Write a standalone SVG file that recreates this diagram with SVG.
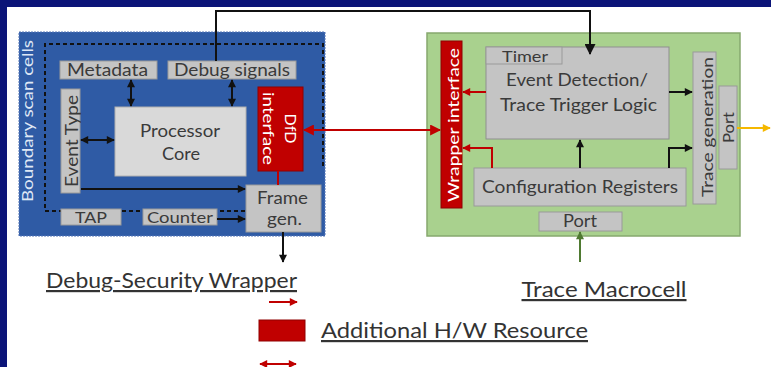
<svg xmlns="http://www.w3.org/2000/svg" width="771" height="367" viewBox="0 0 771 367">
  <style>
    text { font-family: Lato, "Open Sans", "Liberation Sans", sans-serif; fill: #3a3a3a; text-anchor: middle; }
    .box { fill: #c4c4c4; stroke: #9a9a9a; stroke-width: 1; }
    .light { fill: #d9d9d9; stroke: #b0b0b0; stroke-width: 1; }
    .red { fill: #c00000; stroke: #900000; stroke-width: 1; }
    .wt { fill: #ffffff; }
    .sm { font-size: 16px; }
    .lbl { font-size: 17px; }
    .big { font-size: 18px; }
    .cap { font-size: 22px; text-decoration: underline; fill: #333333; }
    .k { fill: none; stroke: #111111; stroke-width: 2; }
    .r { fill: none; stroke: #c00000; stroke-width: 2; }
  </style>
  <defs>
    <marker id="ak" viewBox="0 0 10 10" refX="9" refY="5" markerUnits="userSpaceOnUse" markerWidth="9" markerHeight="8" orient="auto-start-reverse">
      <path d="M0,0 L10,5 L0,10 z" fill="#111111"/>
    </marker>
    <marker id="akb" viewBox="0 0 10 10" refX="9" refY="5" markerUnits="userSpaceOnUse" markerWidth="12" markerHeight="11" orient="auto">
      <path d="M0,0 L10,5 L0,10 z" fill="#111111"/>
    </marker>
    <marker id="ar" viewBox="0 0 10 10" refX="9" refY="5" markerUnits="userSpaceOnUse" markerWidth="9" markerHeight="8" orient="auto-start-reverse">
      <path d="M0,0 L10,5 L0,10 z" fill="#c00000"/>
    </marker>
    <marker id="arb" viewBox="0 0 10 10" refX="9" refY="5" markerUnits="userSpaceOnUse" markerWidth="12" markerHeight="11" orient="auto-start-reverse">
      <path d="M0,0 L10,5 L0,10 z" fill="#c00000"/>
    </marker>
    <marker id="ay" viewBox="0 0 10 10" refX="9" refY="5" markerUnits="userSpaceOnUse" markerWidth="9" markerHeight="8" orient="auto">
      <path d="M0,0 L10,5 L0,10 z" fill="#f5b800"/>
    </marker>
    <marker id="ag" viewBox="0 0 10 10" refX="9" refY="5" markerUnits="userSpaceOnUse" markerWidth="9" markerHeight="8" orient="auto">
      <path d="M0,0 L10,5 L0,10 z" fill="#4f7a32"/>
    </marker>
  </defs>

  <!-- page frame -->
  <rect x="0" y="0" width="771" height="367" fill="#0b1478"/>
  <rect x="7" y="7" width="764" height="360" fill="#ffffff"/>

  <!-- Debug-Security Wrapper -->
  <g id="wrapper">
    <rect x="19" y="32" width="306" height="204" fill="#2f5ba5" stroke="#5577b8" stroke-width="1" stroke-dasharray="2 1"/>
    <path d="M245,211 H45 V44 H323 V166" fill="none" stroke="#111111" stroke-width="2" stroke-dasharray="4 3"/>
    <text class="sm" transform="translate(33,121) rotate(-90)" textLength="162" lengthAdjust="spacingAndGlyphs" style="fill:#dfe8f5">Boundary scan cells</text>
  </g>
  <g id="metadata">
    <rect class="box" x="60" y="61" width="97" height="18"/>
    <text class="lbl" x="107.5" y="76" textLength="81" lengthAdjust="spacingAndGlyphs">Metadata</text>
  </g>
  <g id="debug-signals">
    <rect class="box" x="168" y="61" width="128" height="18"/>
    <text class="lbl" x="232" y="76" textLength="116" lengthAdjust="spacingAndGlyphs">Debug signals</text>
  </g>
  <g id="event-type">
    <rect class="box" x="61" y="89" width="19" height="104"/>
    <text class="lbl" transform="translate(77.5,141) rotate(-90)" textLength="92" lengthAdjust="spacingAndGlyphs">Event Type</text>
  </g>
  <g id="processor-core">
    <rect class="light" x="115" y="107" width="131" height="69"/>
    <text class="big" x="180" y="137" textLength="80" lengthAdjust="spacingAndGlyphs">Processor</text>
    <text class="big" x="181" y="160" textLength="38" lengthAdjust="spacingAndGlyphs">Core</text>
  </g>
  <g id="dfd-interface">
    <rect class="red" x="258" y="87" width="45" height="84"/>
    <text class="sm wt" transform="translate(280.5,128.5) rotate(90)"><tspan x="0" y="-4.5" textLength="30" lengthAdjust="spacingAndGlyphs">DfD</tspan><tspan x="0" y="18" textLength="73" lengthAdjust="spacingAndGlyphs">interface</tspan></text>
  </g>
  <g id="frame-gen">
    <rect class="box" x="246" y="185" width="75" height="47"/>
    <text class="big" x="282.5" y="204" textLength="51" lengthAdjust="spacingAndGlyphs">Frame</text>
    <text class="big" x="284.5" y="225" textLength="35" lengthAdjust="spacingAndGlyphs">gen.</text>
  </g>
  <g id="tap">
    <rect class="box" x="61" y="209" width="60" height="16"/>
    <text class="sm" x="91" y="222.5" textLength="32" lengthAdjust="spacingAndGlyphs">TAP</text>
  </g>
  <g id="counter">
    <rect class="box" x="143" y="209" width="74" height="16"/>
    <text class="sm" x="180" y="222.5" textLength="66" lengthAdjust="spacingAndGlyphs">Counter</text>
  </g>

  <!-- Trace Macrocell -->
  <g id="macrocell">
    <rect x="427" y="33" width="313" height="203" fill="#a9d18e" stroke="#86a86e" stroke-width="1.5"/>
  </g>
  <g id="wrapper-interface">
    <rect class="red" x="441" y="41" width="21" height="167"/>
    <text class="sm wt" transform="translate(458.5,125) rotate(-90)" textLength="154" lengthAdjust="spacingAndGlyphs">Wrapper interface</text>
  </g>
  <g id="event-detection">
    <rect x="486" y="47" width="183" height="92" fill="#c4c4c4" stroke="#8f8f8f" stroke-width="1"/>
    <rect class="box" x="486" y="47" width="76" height="17"/>
    <text class="sm" x="525" y="62" textLength="46" lengthAdjust="spacingAndGlyphs">Timer</text>
    <text class="big" x="577" y="86" textLength="142" lengthAdjust="spacingAndGlyphs">Event Detection/</text>
    <text class="big" x="578.5" y="111" textLength="157" lengthAdjust="spacingAndGlyphs">Trace Trigger Logic</text>
  </g>
  <g id="config-registers">
    <rect class="box" x="474" y="168" width="212" height="38"/>
    <text class="big" x="580" y="193" textLength="196" lengthAdjust="spacingAndGlyphs">Configuration Registers</text>
  </g>
  <g id="port-bottom">
    <rect class="box" x="539" y="212" width="83" height="19"/>
    <text class="lbl" x="580" y="227" textLength="34" lengthAdjust="spacingAndGlyphs">Port</text>
  </g>
  <g id="trace-generation">
    <rect class="box" x="693" y="52" width="23" height="152"/>
    <text class="sm" transform="translate(712.5,127) rotate(-90)" textLength="140" lengthAdjust="spacingAndGlyphs">Trace generation</text>
  </g>
  <g id="port-right">
    <rect class="box" x="719" y="86" width="18" height="83"/>
    <text class="sm" transform="translate(734,127.5) rotate(-90)" textLength="31" lengthAdjust="spacingAndGlyphs">Port</text>
  </g>

  <!-- connectors -->
  <g id="connectors">
    <path class="k" d="M216,61 V11 H590 V54" stroke-width="3" marker-end="url(#akb)"/>
    <path class="k" d="M131,80 V106" marker-start="url(#ak)" marker-end="url(#ak)"/>
    <path class="k" d="M232,80 V106" marker-start="url(#ak)" marker-end="url(#ak)"/>
    <path class="k" d="M81,140 H114" marker-start="url(#ak)" marker-end="url(#ak)"/>
    <path class="k" d="M81,189 H245" marker-end="url(#ak)"/>
    <path class="k" d="M217,219 H245" marker-end="url(#ak)"/>
    <path class="r" d="M278,171 V185"/>
    <path class="k" d="M283,232 V262" marker-end="url(#ak)"/>
    <path class="r" d="M304,130 H440" stroke-width="3" marker-start="url(#arb)" marker-end="url(#arb)"/>
    <path class="r" d="M486,92 H463" marker-end="url(#ar)"/>
    <path class="r" d="M492,168 V148 H463" marker-end="url(#ar)"/>
    <path class="k" d="M580,168 V140" marker-end="url(#ak)"/>
    <path class="k" d="M669,92 H692" marker-end="url(#ak)"/>
    <path class="k" d="M669,168 V148 H692" marker-end="url(#ak)"/>
    <path d="M737,128 H770" fill="none" stroke="#f5b800" stroke-width="2" marker-end="url(#ay)"/>
    <path d="M580,262 V232" fill="none" stroke="#4f7a32" stroke-width="2" marker-end="url(#ag)"/>
  </g>

  <!-- captions and legend -->
  <g id="captions">
    <text class="cap" x="171.5" y="288" textLength="251" lengthAdjust="spacingAndGlyphs">Debug-Security Wrapper</text>
    <text class="cap" x="604" y="297" textLength="165" lengthAdjust="spacingAndGlyphs">Trace Macrocell</text>
  </g>
  <g id="legend">
    <path class="r" d="M269,302 H297" marker-end="url(#ar)"/>
    <rect class="red" x="259" y="320" width="46" height="21"/>
    <text class="cap" x="454.5" y="338" textLength="267" lengthAdjust="spacingAndGlyphs">Additional H/W Resource</text>
    <path class="r" d="M260,364 H296" marker-start="url(#ar)" marker-end="url(#ar)"/>
  </g>
</svg>
